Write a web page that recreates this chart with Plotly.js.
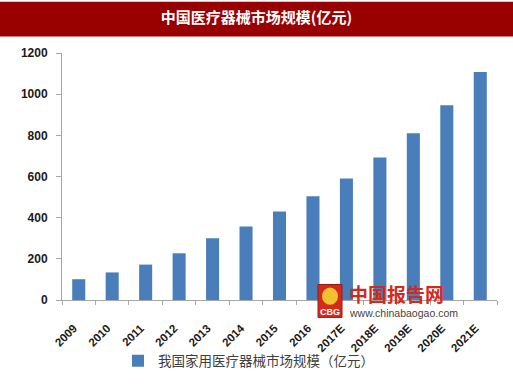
<!DOCTYPE html>
<html>
<head>
<meta charset="utf-8">
<script src="https://cdn.plot.ly/plotly-3.0.1.min.js"></script>
<style>html,body{margin:0;padding:0;background:#fff;}#chart{width:513px;height:388px;}</style>
</head>
<body>
<div id="chart"></div>
<script>
const years = ["2009","2010","2011","2012","2013","2014","2015","2016","2017E","2018E","2019E","2020E","2021E"];
const marketSize = [101, 134, 172, 227, 300, 357, 430, 504, 590, 692, 810, 946, 1108];
const seriesName = "我国家用医疗器械市场规模（亿元）";
const chartTitle = "中国医疗器械市场规模(亿元)";
const yTicks = [0, 200, 400, 600, 800, 1000, 1200];

const W = 513, H = 388;
const L = 62, R = 16, T = 53, B = 80;
const pw = W - L - R, ph = H - T - B;
const px = x => (x - L) / pw;
const py = y => (H - B - y) / ph;

const trace = {
  type: 'bar',
  x: years,
  y: marketSize,
  name: seriesName,
  marker: {color: '#4a7ebb'},
  showlegend: true
};

const layout = {
  width: W, height: H,
  margin: {l: L, r: R, t: T, b: B, pad: 0},
  paper_bgcolor: '#ffffff',
  plot_bgcolor: '#ffffff',
  bargap: 0.61,
  title: {
    text: '<b>' + chartTitle + '</b>',
    font: {family: 'Noto Sans CJK SC, sans-serif', size: 15, color: '#ffffff'},
    x: 0.5, xref: 'container', xanchor: 'center',
    y: 1 - 18 / H, yref: 'container', yanchor: 'middle'
  },
  xaxis: {
    type: 'category',
    showgrid: false,
    showline: true, linecolor: '#a6a6a6', linewidth: 1,
    ticks: 'outside', ticklen: 4, tickcolor: '#a6a6a6', tickson: 'boundaries',
    tickangle: -45,
    ticklabelstandoff: 16,
    ticklabelshift: -5,
    tickfont: {family: 'Liberation Sans, Arial, sans-serif', size: 11.5, color: '#1a1a1a', weight: 'bold'},
    fixedrange: true
  },
  yaxis: {
    range: [0, 1200],
    tickvals: yTicks,
    showgrid: false, zeroline: false,
    showline: true, linecolor: '#a6a6a6', linewidth: 1,
    ticks: 'outside', ticklen: 5, tickcolor: '#a6a6a6',
    ticklabelstandoff: 6,
    tickfont: {family: 'Liberation Sans, Arial, sans-serif', size: 12, color: '#1a1a1a', weight: 'bold'},
    fixedrange: true
  },
  legend: {
    orientation: 'h',
    x: px(118), xanchor: 'left', xref: 'paper',
    y: py(371), yanchor: 'middle',
    itemwidth: 30,
    font: {family: 'Noto Sans CJK SC, sans-serif', size: 13.5, color: '#404040'},
    bgcolor: 'rgba(0,0,0,0)'
  },
  shapes: [
    {type: 'rect', xref: 'paper', yref: 'paper', x0: px(0), x1: px(W), y0: py(36), y1: py(0),
     fillcolor: '#990000', line: {width: 0}, layer: 'below'},
    {type: 'rect', xref: 'paper', yref: 'paper', x0: px(318), x1: px(342), y0: py(326), y1: py(292),
     fillcolor: '#d42a1e', line: {width: 1, color: '#9a1a10'}, layer: 'above'},
    {type: 'circle', xref: 'paper', yref: 'paper', x0: px(322), x1: px(338), y0: py(313), y1: py(295),
     fillcolor: '#f2c12e', line: {width: 0}, layer: 'above'}
  ],
  annotations: [
    {xref: 'paper', yref: 'paper', x: px(330), y: py(320), text: '<b>CBG</b>', showarrow: false,
     font: {family: 'Liberation Sans, Arial, sans-serif', size: 9, color: '#ffffff'}, xanchor: 'center', yanchor: 'middle'},
    {xref: 'paper', yref: 'paper', x: px(347), y: py(301), text: '<b>中国报告网</b>', showarrow: false,
     font: {family: 'Noto Sans CJK SC, sans-serif', size: 19, color: '#d42a1e'}, xanchor: 'left', yanchor: 'middle'},
    {xref: 'paper', yref: 'paper', x: px(347), y: py(321), text: 'www.chinabaogao.com', showarrow: false,
     font: {family: 'Liberation Sans, Arial, sans-serif', size: 10.5, color: '#444444'}, xanchor: 'left', yanchor: 'middle'}
  ]
};

Plotly.newPlot('chart', [trace], layout, {displayModeBar: false, staticPlot: true});
</script>
</body>
</html>
